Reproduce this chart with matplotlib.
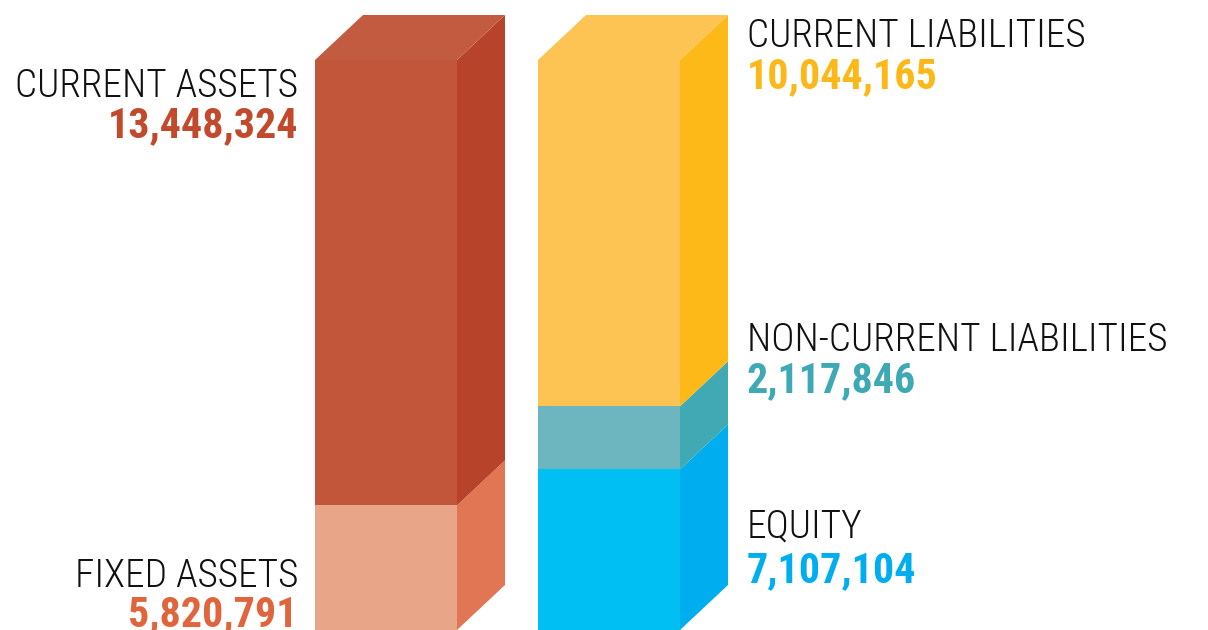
import numpy as np
import matplotlib
matplotlib.use("Agg")
import matplotlib.pyplot as plt
from matplotlib.patches import Polygon
from matplotlib.transforms import IdentityTransform

# ---------------- data ----------------
left_categories = ["FIXED ASSETS", "CURRENT ASSETS"]
left_values = [5820791, 13448324]
right_categories = ["EQUITY", "NON-CURRENT LIABILITIES", "CURRENT LIABILITIES"]
right_values = [7107104, 2117846, 10044165]

left_front = ["#E9A587", "#C1563B"]
left_side = ["#E07654", "#B6432A"]
left_top = "#C35B40"
left_text = ["#E0653C", "#C24A2C"]

right_front = ["#00BFF3", "#6EB6BF", "#FDC453"]
right_side = ["#00AEEF", "#40A9B3", "#FDB918"]
right_top = "#FDC453"
right_text = ["#00AEEF", "#3DA9B5", "#FCB817"]

# ---------------- layout ----------------
W, H, DPI = 1208, 630, 100
DX, DY = 48, 45            # 3-D depth in pixels
TOP_PX = 60                # front top of the tallest bar, from image top
P = 1.27                   # the reference bars are not drawn linearly

def fwd(v):
    v = np.asarray(v, dtype=float)
    return np.sign(v) * np.abs(v) ** P

def inv(v):
    v = np.asarray(v, dtype=float)
    return np.sign(v) * np.abs(v) ** (1.0 / P)

fig = plt.figure(figsize=(W / DPI, H / DPI), dpi=DPI)
fig.patch.set_facecolor("white")
ax = fig.add_axes([0, 0, 1, 1])
ax.set_yscale("function", functions=(fwd, inv))
total = max(sum(left_values), sum(right_values))
ax.set_ylim(0, float(inv(fwd(total) * H / (H - TOP_PX))))
unit = 223.0
x0_px = 386.0
ax.set_xlim(-x0_px / unit, (W - x0_px) / unit)
ax.axis("off")

bar_w = 142 / unit
positions = [0, 1]

def draw_stack(xpos, values, fronts, sides, topc):
    bottoms = np.concatenate([[0], np.cumsum(values)[:-1]])
    bars = ax.bar([xpos] * len(values), values, bottom=bottoms, width=bar_w,
                  color=fronts, linewidth=0, zorder=2)
    for b, v, sc in zip(bottoms, values, sides):
        (xl, yb), (xr, yt) = ax.transData.transform([(xpos - bar_w / 2, b),
                                                     (xpos + bar_w / 2, b + v)])
        side = Polygon([(xr, yb), (xr, yt), (xr + DX, yt + DY), (xr + DX, yb + DY)],
                       closed=True, facecolor=sc, edgecolor="none",
                       transform=IdentityTransform(), zorder=2)
        ax.add_patch(side)
    b, v = bottoms[-1], values[-1]
    (xl, yb), (xr, yt) = ax.transData.transform([(xpos - bar_w / 2, b),
                                                 (xpos + bar_w / 2, b + v)])
    top = Polygon([(xl, yt), (xr, yt), (xr + DX, yt + DY), (xl + DX, yt + DY)],
                  closed=True, facecolor=topc, edgecolor="none",
                  transform=IdentityTransform(), zorder=2)
    ax.add_patch(top)
    return bars

draw_stack(positions[0], left_values, left_front, left_side, left_top)
draw_stack(positions[1], right_values, right_front, right_side, right_top)

# ---------------- labels ----------------
FAM = ["Roboto Condensed", "Open Sans Condensed", "Liberation Sans Narrow", "DejaVu Sans"]
NAME_WEIGHT = "light"
VAL_WEIGHT = "bold"
renderer = fig.canvas.get_renderer()

def fitted_size(text, weight, target_w, base=30.0):
    t = fig.text(0, 0, text, fontsize=base, family=FAM, fontweight=weight,
                 fontstretch="condensed")
    w = t.get_window_extent(renderer=renderer).width
    t.remove()
    return base * target_w / w

NAME_SIZE = min(fitted_size("NON-CURRENT LIABILITIES", NAME_WEIGHT, 421),
                fitted_size("CURRENT LIABILITIES", NAME_WEIGHT, 338))
VAL_SIZE = fitted_size("10,044,165", VAL_WEIGHT, 191)

def label(x_px, name_base, val_base, name, value, color, ha):
    fig.text(x_px / W, 1 - name_base / H, name, ha=ha, va="baseline",
             fontsize=NAME_SIZE, family=FAM, fontstretch="condensed",
             fontweight=NAME_WEIGHT, color="#111111")
    fig.text(x_px / W, 1 - val_base / H, f"{value:,}", ha=ha, va="baseline",
             fontsize=VAL_SIZE, family=FAM, fontstretch="condensed",
             fontweight=VAL_WEIGHT, color=color)

left_baselines = [(587, 626), (97, 137)]
right_baselines = [(538, 582), (351, 392), (47, 88)]

for cat, val, col, (nb, vb) in zip(left_categories, left_values, left_text, left_baselines):
    label(298, nb, vb, cat, val, col, "right")
for cat, val, col, (nb, vb) in zip(right_categories, right_values, right_text, right_baselines):
    label(747, nb, vb, cat, val, col, "left")

fig.savefig("out.png", dpi=DPI, facecolor="white")
